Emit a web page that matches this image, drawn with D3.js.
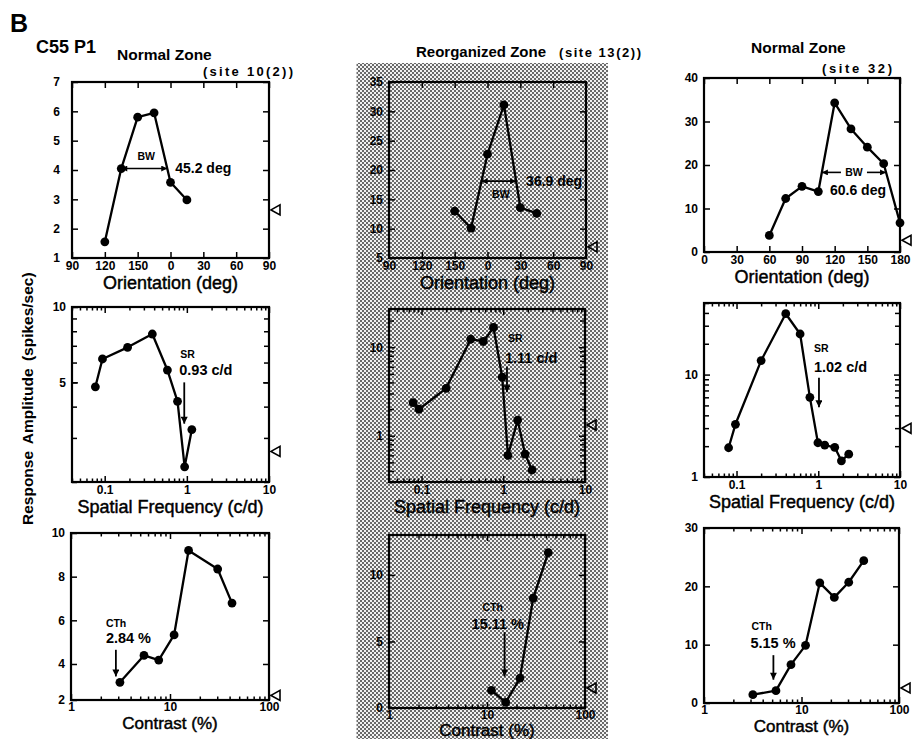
<!DOCTYPE html>
<html>
<head>
<meta charset="utf-8">
<script src="https://cdn.jsdelivr.net/npm/d3@7/dist/d3.min.js"></script>
<style>
  html, body { margin: 0; padding: 0; background: #fff; }
  svg { display: block; }
</style>
</head>
<body>
<svg id="fig" width="912" height="739"></svg>
<script>
// ---------- Orientation tuning (deg; response in spikes/sec) ----------
const oriSite10 = [120, 135, 150, 165, 0, 15];
const respOriSite10 = [1.55, 4.05, 5.8, 5.95, 3.58, 2.98];
const oriSite13 = [150, 165, 0, 15, 30, 45];
const respOriSite13 = [13.0, 10.1, 22.7, 31.1, 13.6, 12.6];
const oriSite32 = [60, 75, 90, 105, 120, 135, 150, 165, 180];
const respOriSite32 = [3.8, 12.3, 15.1, 13.9, 34.3, 28.3, 24.1, 20.3, 6.7];

// ---------- Spatial frequency tuning (c/d) ----------
const sfSite10 = [0.077, 0.094, 0.19, 0.38, 0.58, 0.77, 0.94, 1.15];
const respSfSite10 = [4.8, 6.2, 6.9, 7.8, 5.6, 4.2, 2.3, 3.24];
const sfSite13 = [0.079, 0.093, 0.2, 0.4, 0.57, 0.76, 0.97, 1.14, 1.5, 1.85, 2.25];
const respSfSite13 = [2.36, 1.99, 3.43, 12.3, 11.6, 16.7, 4.6, 0.6, 1.5, 0.62, 0.41];
const sfSite32 = [0.08, 0.097, 0.2, 0.4, 0.6, 0.79, 0.99, 1.2, 1.59, 1.92, 2.36];
const respSfSite32 = [1.93, 3.27, 13.7, 39.3, 24.9, 6.0, 2.16, 2.05, 1.95, 1.44, 1.67];

// ---------- Contrast response (%) ----------
const conSite10 = [3.12, 5.46, 7.69, 11.0, 15.4, 30.3, 42.3];
const respConSite10 = [3.16, 4.39, 4.18, 5.33, 9.2, 8.35, 6.79];
const conSite13 = [11.1, 15.5, 21.7, 29.6, 42.2];
const respConSite13 = [1.32, 0.42, 2.25, 8.25, 11.67];
const conSite32 = [3.17, 5.47, 7.8, 11.0, 15.4, 21.7, 30.5, 43.5];
const respConSite32 = [1.42, 2.11, 6.57, 9.88, 20.6, 18.1, 20.7, 24.4];

// Spontaneous rate per site: [orientation, spatial frequency, contrast]
const spontSite10 = [2.64, 2.65, 2.56];
const spontSite13 = [6.9, 1.32, 1.5];
const spontSite32 = [2.7, 2.99, 2.57];

// Tuning summaries per site [10, 13, 32]
const bwDeg = [45.2, 36.9, 60.6];
const bwLevel = [4.05, 18.1, 18.3];
const srCd = [0.93, 1.11, 1.02];
const cthPct = [2.84, 15.11, 5.15];

// ---------- Axis ticks ----------
const oriTicksCentred = [90, 120, 150, 180, 210, 240, 270]; // labelled modulo 180
const oriTicks = [0, 30, 60, 90, 120, 150, 180];
const sfTicks = [0.1, 1, 10];
const conTicks = [1, 10, 100];

const FONT = "'Liberation Sans', Arial, Helvetica, sans-serif";
const svg = d3.select("#fig");
const defs = svg.append("defs");

// halftone screen behind the reorganized-zone column
const pat = defs.append("pattern").attr("id", "screen")
  .attr("width", 4).attr("height", 4).attr("patternUnits", "userSpaceOnUse");
pat.append("rect").attr("width", 4).attr("height", 4).attr("fill", "#f2f2f2");
pat.append("rect").attr("width", 2).attr("height", 2).attr("fill", "#6a6a6a");
pat.append("rect").attr("x", 2).attr("y", 2).attr("width", 2).attr("height", 2).attr("fill", "#6a6a6a");

function marker(id, w, h) {
  defs.append("marker").attr("id", id)
    .attr("viewBox", "0 0 10 10").attr("refX", 10).attr("refY", 5)
    .attr("markerWidth", w).attr("markerHeight", h)
    .attr("markerUnits", "userSpaceOnUse").attr("orient", "auto-start-reverse")
    .append("path").attr("d", "M0,0L10,5L0,10Z").attr("fill", "#000");
}
marker("headV", 9, 7);
marker("headS", 7, 6);

svg.append("rect").attr("x", 356.5).attr("y", 63).attr("width", 251.5).attr("height", 676)
  .attr("fill", "url(#screen)");

// orientation on an axis centred on 0 deg
const unwrap = d => (d < 90 ? d + 180 : d);

function logMinor(domain) {
  const out = [];
  const [a, b] = domain;
  for (let e = Math.floor(Math.log10(a)); e <= Math.ceil(Math.log10(b)); e++) {
    for (let k = 2; k < 10; k++) {
      const v = k * Math.pow(10, e);
      if (v >= a * 0.999 && v <= b * 1.001) out.push(v);
    }
  }
  return out;
}

// crossings of a level on either side of the tuning peak
function crossings(xs, ys, level) {
  const iMax = ys.indexOf(d3.max(ys));
  let left = xs[0], right = xs[xs.length - 1];
  for (let i = iMax; i > 0; i--) {
    if (ys[i - 1] <= level && ys[i] >= level) {
      left = xs[i - 1] + (xs[i] - xs[i - 1]) * (level - ys[i - 1]) / (ys[i] - ys[i - 1]);
      break;
    }
  }
  for (let i = iMax; i < xs.length - 1; i++) {
    if (ys[i + 1] <= level && ys[i] >= level) {
      right = xs[i] + (xs[i + 1] - xs[i]) * (ys[i] - level) / (ys[i] - ys[i + 1]);
      break;
    }
  }
  return [left, right];
}

function txt(g, x, y, s, size, opts = {}) {
  const t = g.append("text").attr("x", x).attr("y", y)
    .attr("font-family", FONT).attr("font-size", size)
    .attr("font-weight", opts.bold === false ? "normal" : "bold")
    .attr("text-anchor", opts.anchor || "start")
    .attr("fill", "#000").text(s);
  if (opts.heavy) t.attr("stroke", "#000").attr("stroke-width", opts.heavy);
  return t;
}

function panel(p) {
  const g = svg.append("g");
  const x = (p.xLog ? d3.scaleLog() : d3.scaleLinear()).domain(p.xDomain).range([p.x0, p.x1]);
  const y = (p.yLog ? d3.scaleLog() : d3.scaleLinear()).domain(p.yDomain).range([p.y1, p.y0]);

  const add = (axis, tx, ty) => {
    const a = g.append("g").attr("transform", `translate(${tx},${ty})`).call(axis);
    a.select(".domain").remove();
    a.selectAll("line").attr("stroke", "#000").attr("stroke-width", 1.5);
    a.attr("font-family", FONT).attr("font-size", 12).attr("font-weight", "bold");
    a.selectAll("text").attr("fill", "#000");
    return a;
  };

  add(d3.axisBottom(x).tickValues(p.xTicks).tickFormat(p.xFormat || (d => d))
      .tickSize(-6).tickPadding(p.xPad ?? 3), 0, p.y1);
  add(d3.axisTop(x).tickValues(p.xTicks).tickFormat("").tickSize(-6), 0, p.y0);
  if (p.xLog) {
    const mn = logMinor(p.xDomain);
    add(d3.axisBottom(x).tickValues(mn).tickFormat("").tickSize(-3.5), 0, p.y1);
    add(d3.axisTop(x).tickValues(mn).tickFormat("").tickSize(-3.5), 0, p.y0);
  }
  add(d3.axisLeft(y).tickValues(p.yTicks).tickFormat(p.yFormat || (d => d))
      .tickSize(-6).tickPadding(p.yPad ?? 6), p.x0, 0);
  add(d3.axisRight(y).tickValues(p.yTicks).tickFormat("").tickSize(-6), p.x1, 0);
  if (p.yLog) {
    const mn = logMinor(p.yDomain);
    add(d3.axisLeft(y).tickValues(mn).tickFormat("").tickSize(-5), p.x0, 0);
    add(d3.axisRight(y).tickValues(mn).tickFormat("").tickSize(-5), p.x1, 0);
  }

  g.append("rect").attr("x", p.x0).attr("y", p.y0)
    .attr("width", p.x1 - p.x0).attr("height", p.y1 - p.y0)
    .attr("fill", "none").attr("stroke", "#000").attr("stroke-width", 2.2);

  const pts = p.xs.map((d, i) => [x(d), y(p.ys[i])]);
  g.append("path").attr("d", d3.line()(pts))
    .attr("fill", "none").attr("stroke", "#000").attr("stroke-width", 2.3)
    .attr("stroke-linejoin", "round");
  g.selectAll("circle.pt").data(pts).join("circle").attr("class", "pt")
    .attr("cx", d => d[0]).attr("cy", d => d[1]).attr("r", 4.4).attr("fill", "#000");

  const sy = y(p.spont);
  g.append("path")
    .attr("d", `M${p.x1 + 2},${sy}L${p.x1 + 11},${sy - 5}L${p.x1 + 11},${sy + 5}Z`)
    .attr("fill", "none").attr("stroke", "#000").attr("stroke-width", 1.6);

  txt(g, (p.x0 + p.x1) / 2, p.y1 + (p.titleDy ?? 31), p.xTitle, p.titleSize ?? 18,
      { bold: false, anchor: "middle", heavy: 0.45 });

  if (p.bw) {
    const [l, r] = crossings(p.xs, p.ys, p.bw.level);
    const ay = y(p.bw.level), xl = x(l), xr = x(r), mid = (xl + xr) / 2;
    const st = sel => sel.attr("stroke", "#000").attr("stroke-width", 1.6);
    if (p.bw.inline) {
      st(g.append("line").attr("x1", mid - 13).attr("x2", xl).attr("y1", ay).attr("y2", ay))
        .attr("marker-end", "url(#headS)");
      st(g.append("line").attr("x1", mid + 13).attr("x2", xr).attr("y1", ay).attr("y2", ay))
        .attr("marker-end", "url(#headS)");
      txt(g, mid, ay + 4, "BW", 10.5, { anchor: "middle" });
      txt(g, mid + 4, ay + 23, `${p.bw.deg} deg`, 14, { anchor: "middle" });
    } else {
      st(g.append("line").attr("x1", xl).attr("x2", xr).attr("y1", ay).attr("y2", ay))
        .attr("marker-start", "url(#headS)").attr("marker-end", "url(#headS)");
      txt(g, mid + p.bw.bwDx, ay + p.bw.bwDy, "BW", 10.5, { anchor: "middle" });
      txt(g, xr + p.bw.valDx, ay + p.bw.valDy, `${p.bw.deg} deg`, 14);
    }
  }

  if (p.arrow) {
    const a = p.arrow, ax = x(a.at), y1 = y(a.from), y2 = y(a.to);
    g.append("line").attr("x1", ax).attr("x2", ax).attr("y1", y1).attr("y2", y2)
      .attr("stroke", "#000").attr("stroke-width", 1.8).attr("marker-end", "url(#headV)");
    const ty = a.textTop ?? y1;
    txt(g, ax + a.dx1, ty + a.dy1, a.label, 10.5);
    txt(g, ax + a.dx2, ty + a.dy2, a.value, 14.5);
  }
}

// ---------- top row: orientation ----------
panel({
  x0: 72, x1: 269, y0: 82, y1: 258,
  xDomain: [90, 270], xTicks: oriTicksCentred, xFormat: d => d % 180,
  yDomain: [1, 7], yTicks: [1, 2, 3, 4, 5, 6, 7], yPad: 12,
  xs: oriSite10.map(unwrap), ys: respOriSite10, spont: spontSite10[0],
  xTitle: "Orientation (deg)",
  bw: { level: bwLevel[0], deg: bwDeg[0], bwDx: 2, bwDy: -9, valDx: 8, valDy: 4 }
});
panel({
  x0: 389, x1: 586, y0: 82, y1: 258,
  xDomain: [90, 270], xTicks: oriTicksCentred, xFormat: d => d % 180,
  yDomain: [5, 35], yTicks: [5, 10, 15, 20, 25, 30, 35],
  xs: oriSite13.map(unwrap), ys: respOriSite13, spont: spontSite13[0],
  xTitle: "Orientation (deg)",
  bw: { level: bwLevel[1], deg: bwDeg[1], bwDx: 2, bwDy: 17, valDx: 10, valDy: 5 }
});
panel({
  x0: 704, x1: 900, y0: 78, y1: 252,
  xDomain: [0, 180], xTicks: oriTicks,
  yDomain: [0, 40], yTicks: [0, 10, 20, 30, 40],
  xs: oriSite32, ys: respOriSite32, spont: spontSite32[0],
  xTitle: "Orientation (deg)",
  bw: { level: bwLevel[2], deg: bwDeg[2], inline: true }
});

// ---------- middle row: spatial frequency ----------
panel({
  x0: 72, x1: 269, y0: 307, y1: 482,
  xLog: true, xDomain: [0.04, 10], xTicks: sfTicks,
  yLog: true, yDomain: [2, 10], yTicks: [5, 10],
  xs: sfSite10, ys: respSfSite10, spont: spontSite10[1],
  xTitle: "Spatial Frequency (c/d)",
  arrow: { at: srCd[0], from: 5.0, to: 3.42, label: "SR", value: `${srCd[0]} c/d`, dx1: -4, dy1: -24, dx2: -5, dy2: -7 }
});
panel({
  x0: 389, x1: 585, y0: 309, y1: 482,
  xLog: true, xDomain: [0.04, 10], xTicks: sfTicks,
  yLog: true, yDomain: [0.3, 27], yTicks: [1, 10],
  xs: sfSite13, ys: respSfSite13, spont: spontSite13[1],
  xTitle: "Spatial Frequency (c/d)",
  arrow: { at: srCd[1], from: 6.0, to: 3.1, label: "SR", value: `${srCd[1]} c/d`, dx1: 1, dy1: -25, dx2: -2, dy2: -4 }
});
panel({
  x0: 704, x1: 900, y0: 303, y1: 477,
  xLog: true, xDomain: [0.04, 10], xTicks: sfTicks,
  yLog: true, yDomain: [1, 50], yTicks: [1, 10],
  xs: sfSite32, ys: respSfSite32, spont: spontSite32[1],
  xTitle: "Spatial Frequency (c/d)",
  arrow: { at: srCd[2], from: 9.3, to: 4.8, label: "SR", value: `${srCd[2]} c/d`, dx1: -5, dy1: -26, dx2: -5, dy2: -6 }
});

// ---------- bottom row: contrast ----------
panel({
  x0: 71, x1: 269, y0: 533, y1: 700,
  xLog: true, xDomain: [1, 100], xTicks: conTicks, xPad: 2,
  yDomain: [2.35, 10], yTicks: [2.35, 4, 6, 8, 10], yFormat: d => Math.floor(d),
  xs: conSite10, ys: respConSite10, spont: spontSite10[2],
  xTitle: "Contrast (%)", titleDy: 29, titleSize: 17,
  arrow: { at: cthPct[0], from: 4.65, to: 3.43, label: "CTh", value: `${cthPct[0]} %`, dx1: -10, dy1: -23, dx2: -10, dy2: -7 }
});
panel({
  x0: 389, x1: 585, y0: 535, y1: 708,
  xLog: true, xDomain: [1, 100], xTicks: conTicks, xPad: 2,
  yDomain: [0, 13], yTicks: [0, 5, 10],
  xs: conSite13, ys: respConSite13, spont: spontSite13[2],
  xTitle: "Contrast (%)", titleDy: 27.5, titleSize: 17,
  arrow: { at: cthPct[1], from: 5.7, to: 2.37, textTop: 628, label: "CTh", value: `${cthPct[1]} %`, dx1: -22, dy1: -17, dx2: -33, dy2: 1 }
});
panel({
  x0: 704, x1: 899, y0: 528, y1: 703,
  xLog: true, xDomain: [1, 100], xTicks: conTicks, xPad: 2,
  yDomain: [0, 30], yTicks: [0, 10, 20, 30],
  xs: conSite32, ys: respConSite32, spont: spontSite32[2],
  xTitle: "Contrast (%)", titleDy: 29, titleSize: 17,
  arrow: { at: cthPct[2], from: 8.2, to: 4.0, label: "CTh", value: `${cthPct[2]} %`, dx1: -22, dy1: -25, dx2: -23, dy2: -7 }
});

// ---------- figure labels ----------
const figLabels = svg.append("g");
txt(figLabels, 10, 32, "B", 25);
txt(figLabels, 36, 53, "C55 P1", 18);
txt(figLabels, 117, 60, "Normal Zone", 15.5);
txt(figLabels, 203, 76, "(site 10(2))", 13).attr("textLength", 90).attr("lengthAdjust", "spacing");
txt(figLabels, 416, 57, "Reorganized Zone", 15);
txt(figLabels, 641, 57, "(site 13(2))", 13, { anchor: "end" }).attr("textLength", 82).attr("lengthAdjust", "spacing");
txt(figLabels, 751, 53, "Normal Zone", 15.5);
txt(figLabels, 822, 73, "(site 32)", 13).attr("textLength", 70).attr("lengthAdjust", "spacing");

txt(figLabels, 0, 0, "Response Amplitude (spikes/sec)", 15.5)
  .attr("transform", "translate(33,525) rotate(-90)")
  .attr("word-spacing", 3);
</script>
</body>
</html>
